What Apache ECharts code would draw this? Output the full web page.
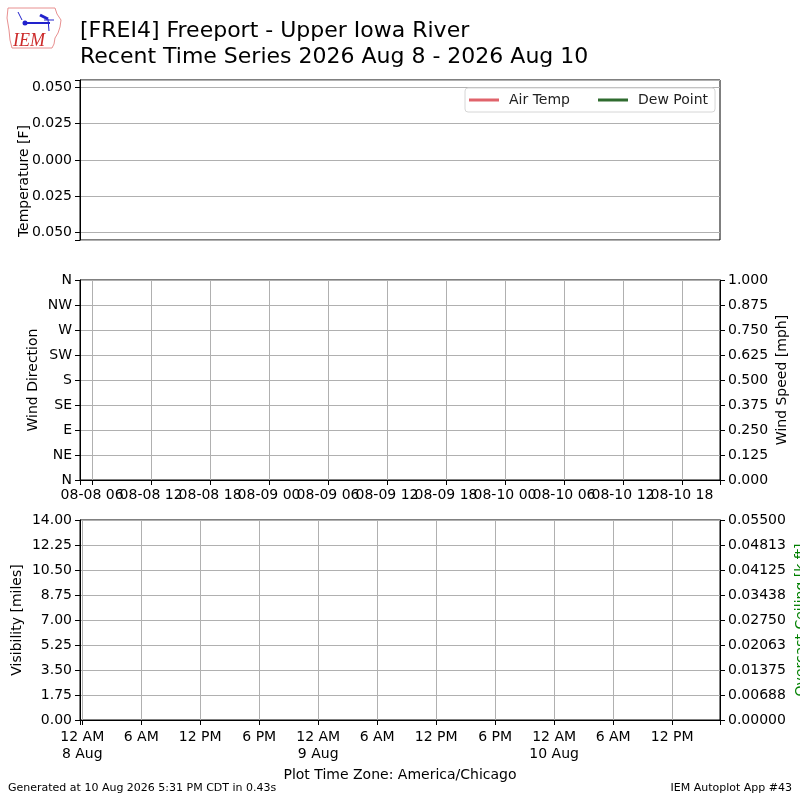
<!DOCTYPE html>
<html>
<head>
<meta charset="utf-8" />
<title>FREI4 Recent Time Series</title>
<script src="https://cdn.jsdelivr.net/npm/echarts@6/dist/echarts.min.js"></script>
<style>
  html, body { margin: 0; padding: 0; background: #fff; }
  #chart { width: 800px; height: 800px; }
</style>
</head>
<body>
<div id="chart"></div>
<script type="text/javascript">
// hours since 2026-08-08 00:00 CDT (America/Chicago)
var localRange = [-0.23, 64.87];
var utcOffset = 5;            // wind panel is labelled in UTC
var startDay = 8;

// the station reported nothing in this window, so every series is empty
var airTemp = [];
var dewPoint = [];
var windDir = [];
var windSpeed = [];
var visibility = [];
var ceiling = [];

// tick labels
var dirLabels = ['N', 'NE', 'E', 'SE', 'S', 'SW', 'W', 'NW', 'N'];
var hourLabels = ['12 AM', '6 AM', '12 PM', '6 PM'];
var monthName = 'Aug';

var FONT = 'DejaVu Sans';
var GRIDC = '#b0b0b0';

function onStep(v, step) {
  var k = v / step;
  return Math.abs(k - Math.round(k)) < 1e-6;
}
function pad2(n) { return (n < 10 ? '0' : '') + n; }

var myChart = echarts.init(document.getElementById('chart'), null, { renderer: 'canvas' });

// common y axis bits
function yAx(extra) {
  var base = {
    type: 'value',
    axisLine: { show: true, onZero: false, lineStyle: { color: '#000', width: 1 } },
    axisTick: { show: true, inside: false, length: 5, lineStyle: { color: '#000' } },
    axisLabel: { color: '#000', fontFamily: FONT, fontSize: 14, margin: 8 },
    splitLine: { show: true, lineStyle: { color: GRIDC, width: 1 } },
    nameLocation: 'middle',
    nameRotate: 90,
    nameMoveOverlap: false,
    nameTextStyle: { color: '#000', fontFamily: FONT, fontSize: 14 }
  };
  for (var k in extra) base[k] = extra[k];
  return base;
}

function gridBox(top, h) {
  return {
    left: 80, top: top, width: 640, height: h,
    show: true, borderColor: '#000', borderWidth: 1, backgroundColor: 'transparent',
    containLabel: false, outerBoundsMode: 'none'
  };
}

var option = {
  backgroundColor: '#fff',
  animation: false,
  title: [
    {
      text: '[FREI4] Freeport - Upper Iowa River\nRecent Time Series 2026 Aug 8 - 2026 Aug 10',
      left: 80, top: 18, padding: 0,
      textStyle: { fontFamily: FONT, fontSize: 22, fontWeight: 'normal', color: '#000', lineHeight: 26 }
    },
    {
      text: 'Generated at 10 Aug 2026 5:31 PM CDT in 0.43s',
      left: 8, top: 783, padding: 0,
      textStyle: { fontFamily: FONT, fontSize: 11, fontWeight: 'normal', color: '#000' }
    },
    {
      text: 'IEM Autoplot App #43',
      right: 8, top: 783, padding: 0,
      textStyle: { fontFamily: FONT, fontSize: 11, fontWeight: 'normal', color: '#000' }
    }
  ],
  legend: {
    data: ['Air Temp', 'Dew Point'],
    left: 465, top: 88,
    icon: 'rect',
    itemWidth: 30, itemHeight: 3,
    itemGap: 28,
    padding: [5, 7, 5, 4],
    backgroundColor: '#fff',
    borderColor: '#d6d6d6', borderWidth: 1, borderRadius: 3,
    textStyle: { fontFamily: FONT, fontSize: 14, color: '#222', padding: [0, 0, 0, 5] }
  },
  grid: [gridBox(80, 160), gridBox(280, 200), gridBox(520, 200)],
  xAxis: [
    {
      gridIndex: 0, type: 'value',
      min: localRange[0], max: localRange[1],
      axisLine: { show: false, onZero: false },
      axisTick: { show: false }, axisLabel: { show: false }, splitLine: { show: false }
    },
    {
      gridIndex: 1, type: 'value',
      min: localRange[0] + utcOffset, max: localRange[1] + utcOffset,
      minInterval: 6, maxInterval: 6,
      axisLine: { show: true, onZero: false, lineStyle: { color: '#000' } },
      axisTick: { show: true, length: 5, lineStyle: { color: '#000' } },
      axisLabel: {
        color: '#000', fontFamily: FONT, fontSize: 14, margin: 8,
        formatter: function (v) {
          if (!onStep(v, 6)) return '';
          var h = Math.round(v);
          return '08-' + pad2(startDay + Math.floor(h / 24)) + ' ' + pad2(h % 24);
        }
      },
      splitLine: { show: true, lineStyle: { color: GRIDC } }
    },
    {
      gridIndex: 2, type: 'value',
      min: localRange[0], max: localRange[1],
      minInterval: 6, maxInterval: 6,
      axisLine: { show: true, onZero: false, lineStyle: { color: '#000' } },
      axisTick: { show: true, length: 5, lineStyle: { color: '#000' } },
      axisLabel: {
        color: '#000', fontFamily: FONT, fontSize: 14, margin: 9, lineHeight: 17,
        verticalAlign: 'top',
        formatter: function (v) {
          if (!onStep(v, 6)) return '';
          var h = Math.round(v);
          var s = hourLabels[(h % 24) / 6];
          if (h % 24 === 0) s += '\n' + (startDay + h / 24) + ' ' + monthName;
          return s;
        }
      },
      splitLine: { show: true, lineStyle: { color: GRIDC } },
      name: 'Plot Time Zone: America/Chicago',
      nameLocation: 'middle', nameGap: 48, nameMoveOverlap: false,
      nameTextStyle: { color: '#000', fontFamily: FONT, fontSize: 14 }
    }
  ],
  yAxis: [
    yAx({
      gridIndex: 0, min: -0.055, max: 0.055, minInterval: 0.025, maxInterval: 0.025,
      axisLabel: {
        color: '#000', fontFamily: FONT, fontSize: 14, margin: 8,
        formatter: function (v) { return onStep(v, 0.025) ? Math.abs(v).toFixed(3) : ''; }
      },
      name: 'Temperature [F]', nameGap: 49,
      nameTextStyle: { color: '#000', fontFamily: FONT, fontSize: 14, padding: [0, 42, 0, 0] }
    }),
    yAx({
      gridIndex: 1, min: 0, max: 360, interval: 45,
      axisLabel: {
        color: '#000', fontFamily: FONT, fontSize: 14, margin: 8,
        formatter: function (v) { return dirLabels[Math.round(v / 45)]; }
      },
      name: 'Wind Direction', nameGap: 40
    }),
    yAx({
      gridIndex: 1, position: 'right', min: 0, max: 1, interval: 0.125,
      axisLabel: {
        color: '#000', fontFamily: FONT, fontSize: 14, margin: 8,
        formatter: function (v) { return v.toFixed(3); }
      },
      splitLine: { show: false },
      name: 'Wind Speed [mph]', nameGap: 55
    }),
    yAx({
      gridIndex: 2, min: 0, max: 14, interval: 1.75,
      axisLabel: {
        color: '#000', fontFamily: FONT, fontSize: 14, margin: 8,
        formatter: function (v) { return v.toFixed(2); }
      },
      name: 'Visibility [miles]', nameGap: 56
    }),
    yAx({
      gridIndex: 2, position: 'right', min: 0, max: 0.055, interval: 0.006875,
      axisLabel: {
        color: '#000', fontFamily: FONT, fontSize: 14, margin: 8,
        formatter: function (v) {
          var r = Math.round(Math.round(v * 1e6) / 10) / 1e5;
          return r.toFixed(5);
        }
      },
      splitLine: { show: false },
      name: 'Overcast Ceiling [k ft]', nameGap: 74,
      nameTextStyle: { color: '#008000', fontFamily: FONT, fontSize: 14 }
    })
  ],
  series: [
    { name: 'Air Temp', type: 'line', xAxisIndex: 0, yAxisIndex: 0, data: airTemp, showSymbol: false, itemStyle: { color: '#e0636b' }, lineStyle: { color: '#e0636b', width: 2 } },
    { name: 'Dew Point', type: 'line', xAxisIndex: 0, yAxisIndex: 0, data: dewPoint, showSymbol: false, itemStyle: { color: '#2f6b2f' }, lineStyle: { color: '#2f6b2f', width: 2 } },
    { name: 'Wind Direction', type: 'scatter', xAxisIndex: 1, yAxisIndex: 1, data: windDir, itemStyle: { color: '#000' } },
    { name: 'Wind Speed', type: 'line', xAxisIndex: 1, yAxisIndex: 2, data: windSpeed, showSymbol: false },
    { name: 'Visibility', type: 'line', xAxisIndex: 2, yAxisIndex: 3, data: visibility, showSymbol: false },
    { name: 'Overcast Ceiling', type: 'line', xAxisIndex: 2, yAxisIndex: 4, data: ceiling, showSymbol: false, itemStyle: { color: '#008000' } }
  ],
  // IEM logo in the top left corner
  graphic: [
    {
      type: 'polyline', z: 10,
      shape: { points: [[8, 8], [55, 8], [57, 14], [61, 20], [60, 27], [58, 33], [55, 38], [54, 44], [52, 48], [12, 48], [10, 40], [9, 30], [7, 18], [8, 8]] },
      style: { stroke: '#e89090', lineWidth: 1, fill: null }
    },
    { type: 'line', z: 11, shape: { x1: 23, y1: 23, x2: 50, y2: 23 }, style: { stroke: '#2222cc', lineWidth: 2 } },
    { type: 'circle', z: 11, shape: { cx: 25, cy: 23, r: 2.5 }, style: { fill: '#2222cc' } },
    { type: 'line', z: 11, shape: { x1: 18, y1: 12, x2: 22, y2: 20 }, style: { stroke: '#2222cc', lineWidth: 1 } },
    { type: 'line', z: 11, shape: { x1: 40, y1: 15, x2: 48, y2: 19 }, style: { stroke: '#2222cc', lineWidth: 3 } },
    { type: 'line', z: 11, shape: { x1: 48, y1: 19, x2: 49, y2: 31 }, style: { stroke: '#2222cc', lineWidth: 1 } },
    { type: 'line', z: 11, shape: { x1: 44, y1: 20, x2: 54, y2: 20 }, style: { stroke: '#2222cc', lineWidth: 1 } },
    {
      type: 'text', z: 11, left: 13, top: 32,
      style: { text: 'IEM', fill: '#cc2a2a', font: 'italic 18px "Liberation Serif", serif' }
    }
  ]
};

myChart.setOption(option);
</script>
</body>
</html>
